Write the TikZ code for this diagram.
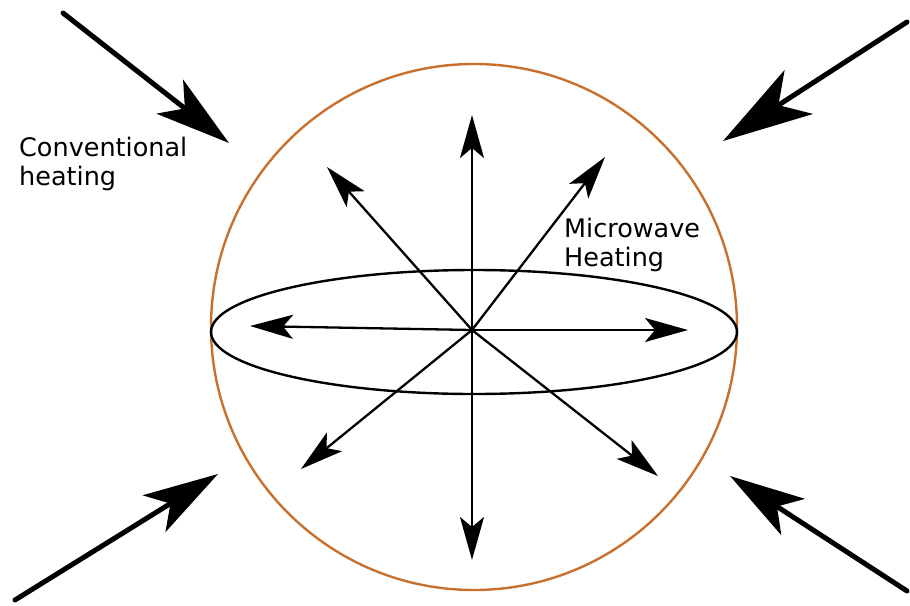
\documentclass[tikz,border=0pt]{standalone}
\usepackage{fontspec}
\setmainfont{DejaVu Sans}
\usetikzlibrary{arrows.meta}
\definecolor{sphere}{HTML}{C8702E}
\tikzset{
  smallarrow/.style={line width=2.3pt, -{Stealth[length=43pt,width=24pt,inset=10pt]}},
  bigarrow/.style={line width=5pt, line cap=round, -{Stealth[length=75pt,width=43pt,inset=19pt]}},
  hugearrow/.style={line width=5pt, line cap=round, -{Stealth[length=90pt,width=52pt,inset=24pt]}},
  lbl/.style={inner sep=0pt, anchor=base west, align=left, font=\fontsize{25.5}{29.5}\selectfont}
}
\begin{document}
\begin{tikzpicture}[x=1pt,y=-1pt]
\useasboundingbox (0,0) rectangle (910,605);
% sphere and equator
\draw[sphere, line width=2.4pt] (474,327) circle[radius=263];
\draw[line width=2.4pt] (474,332) ellipse[x radius=263, y radius=62];
% centre and tips
\coordinate (c) at (472,330);
\coordinate (tU) at (472,115);
\coordinate (tD) at (472,560);
\coordinate (tL) at (250,326);
\coordinate (tR) at (688,330);
\coordinate (tUL) at (327,167);
\coordinate (tUR) at (605,157);
\coordinate (tDL) at (301,469);
\coordinate (tDR) at (658,476);
\foreach \t in {tU,tD,tL,tR,tUL,tUR,tDL,tDR}
  \draw[smallarrow] (c) -- (\t);
% conventional heating arrows
\coordinate (sTL) at (63,13);
\coordinate (eTL) at (229,143);
\coordinate (sTR) at (907,22);
\coordinate (eTR) at (723,141);
\coordinate (sBL) at (15,600);
\coordinate (eBL) at (218,474);
\coordinate (sBR) at (907,591);
\coordinate (eBR) at (730,476);
\draw[bigarrow] (sTL) -- (eTL);
\draw[hugearrow] (sTR) -- (eTR);
\draw[bigarrow] (sBL) -- (eBL);
\draw[bigarrow] (sBR) -- (eBR);
% labels (anchored at the baseline of the last line)
\node[lbl] (conv) at (19,185.5) {Conventional\\heating};
\node[lbl] (micro) at (564,266.5) {Microwave\\Heating};
\end{tikzpicture}
\end{document}
